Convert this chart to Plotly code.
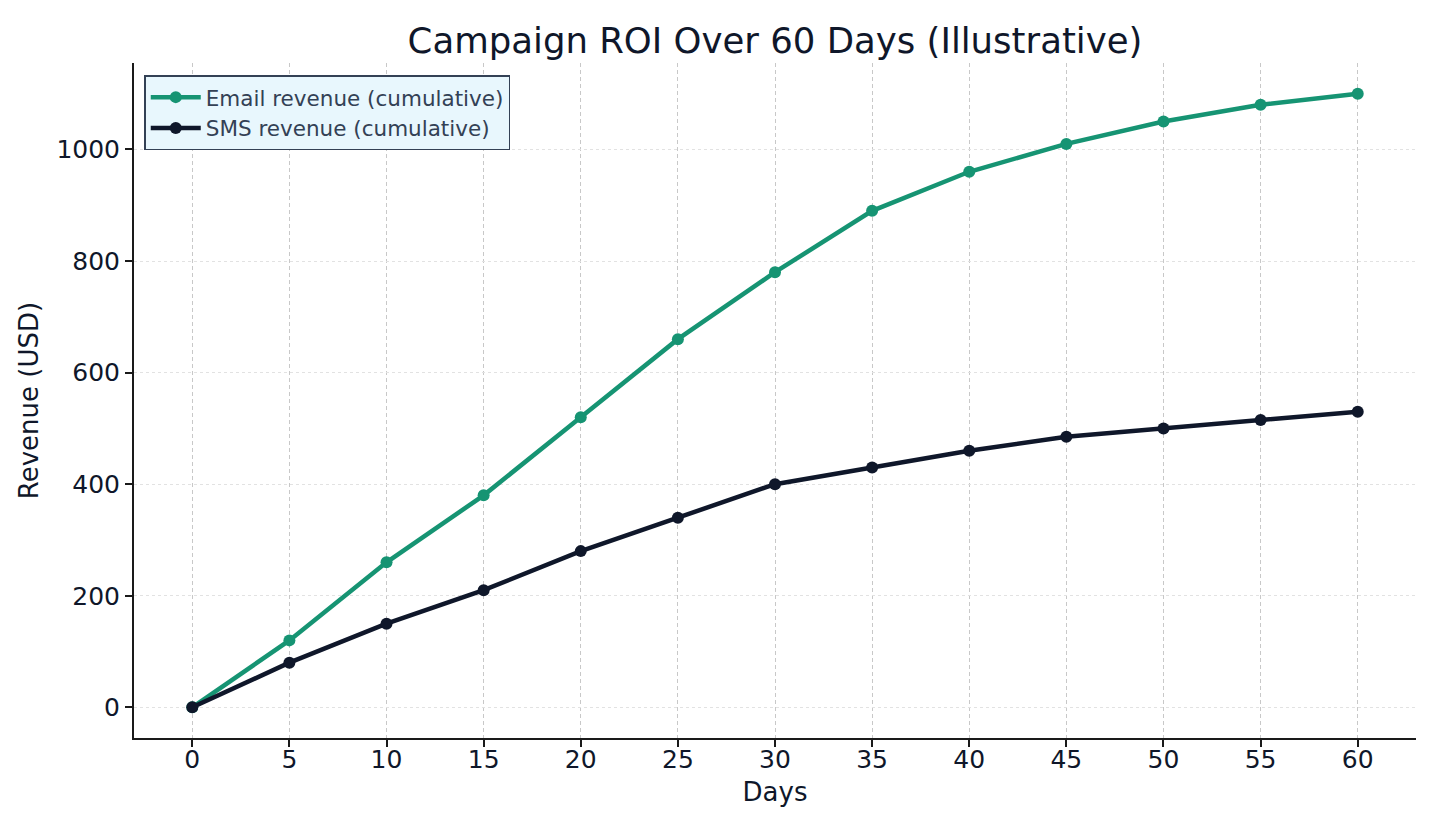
import plotly.graph_objects as go

days = [0, 5, 10, 15, 20, 25, 30, 35, 40, 45, 50, 55, 60]
email_revenue = [0, 120, 260, 380, 520, 660, 780, 890, 960, 1010, 1050, 1080, 1100]
sms_revenue = [0, 80, 150, 210, 280, 340, 400, 430, 460, 485, 500, 515, 530]
y_ticks = [0, 200, 400, 600, 800, 1000]

TEXT = "#0f172a"
fig = go.Figure()
fig.add_trace(go.Scatter(x=days, y=email_revenue, mode="lines+markers",
                         name="Email revenue (cumulative)",
                         line=dict(color="#169473", width=4.5),
                         marker=dict(size=12, color="#169473")))
fig.add_trace(go.Scatter(x=days, y=sms_revenue, mode="lines+markers",
                         name="SMS revenue (cumulative)",
                         line=dict(color="#0f172a", width=4.5),
                         marker=dict(size=12, color="#0f172a")))

fig.update_layout(
    width=1432, height=824,
    margin=dict(l=126, r=24, t=55, b=94),
    paper_bgcolor="white", plot_bgcolor="white",
    font=dict(family="DejaVu Sans", color=TEXT, size=25),
    title=dict(text="Campaign ROI Over 60 Days (Illustrative)", x=0.5, xanchor="center",
               xref="paper", y=0.961, yanchor="middle", font=dict(size=35.5, color=TEXT)),
    legend=dict(x=0.008, y=0.982, xanchor="left", yanchor="top",
                bgcolor="#e8f7fd", bordercolor="#334155", borderwidth=1.5,
                font=dict(size=21.5, color="#334155"), tracegroupgap=0, itemwidth=50),
    showlegend=True,
)
fig.update_xaxes(range=[-3, 63], tickmode="array", tickvals=days,
                 title=dict(text="Days", font=dict(size=26), standoff=10),
                 showline=True, linecolor="#1a1a1a", linewidth=2, mirror=False,
                 ticks="outside", ticklen=7, tickwidth=1.5, tickcolor="#1a1a1a",
                 ticklabelstandoff=-9,
                 showgrid=True, gridcolor="#c8c8c8", griddash="4px,3px", gridwidth=1,
                 zeroline=False, tickfont=dict(size=25))
fig.update_yaxes(range=[-55, 1155], tickmode="array", tickvals=y_ticks,
                 title=dict(text="Revenue (USD)", font=dict(size=26), standoff=10),
                 showline=True, linecolor="#1a1a1a", linewidth=2, mirror=False,
                 ticks="outside", ticklen=7, tickwidth=1.5, tickcolor="#1a1a1a",
                 showgrid=True, gridcolor="#e2e2e2", griddash="dot", gridwidth=1,
                 zeroline=False, tickfont=dict(size=25))

fig.write_html("out.html")
